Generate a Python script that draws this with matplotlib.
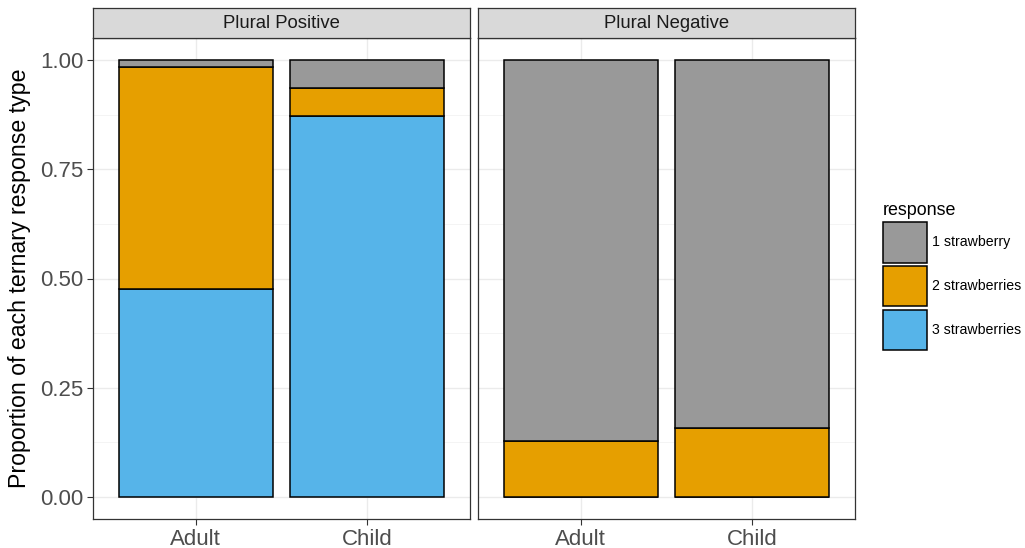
import numpy as np
import matplotlib.pyplot as plt
from matplotlib.ticker import MultipleLocator

plt.rcParams['font.family'] = ['Liberation Sans', 'DejaVu Sans']

groups = ["Adult", "Child"]
panels = ["Plural Positive", "Plural Negative"]
responses = ["1 strawberry", "2 strawberries", "3 strawberries"]
colors = ["#999999", "#E69F00", "#56B4E9"]

# proportions per panel: [group][response]
pos_one = [0.016, 0.064]
pos_two = [0.508, 0.064]
pos_three = [0.476, 0.872]
neg_one = [0.872, 0.842]
neg_two = [0.128, 0.158]
neg_three = [0.0, 0.0]

data = {
    "Plural Positive": [pos_one, pos_two, pos_three],
    "Plural Negative": [neg_one, neg_two, neg_three],
}

W, H = 1025, 548
fig = plt.figure(figsize=(W / 100, H / 100), dpi=100)

lefts = [93, 478]
pw = 377
ptop, pbot = 38, 519
strip_h = 30
dark = "#333333"

handles = None
for k, name in enumerate(panels):
    ax = fig.add_axes([lefts[k] / W, (H - pbot) / H, pw / W, (pbot - ptop) / H])
    x = np.arange(1, len(groups) + 1)
    one, two, three = data[name]
    b3 = ax.bar(x, three, width=0.9, color=colors[2], edgecolor="black", linewidth=1.1, zorder=3)
    b2 = ax.bar(x, two, width=0.9, bottom=three, color=colors[1], edgecolor="black", linewidth=1.1, zorder=3)
    b1 = ax.bar(x, one, width=0.9, bottom=np.array(three) + np.array(two), color=colors[0],
                edgecolor="black", linewidth=1.1, zorder=3)
    if handles is None:
        handles = [b1, b2, b3]
    ax.set_xlim(0.4, 2.6)
    ax.set_ylim(-0.05, 1.05)
    ax.set_xticks(x)
    ax.set_xticklabels(groups, fontsize=16, color="#4d4d4d")
    ax.yaxis.set_major_locator(MultipleLocator(0.25))
    ax.yaxis.set_minor_locator(MultipleLocator(0.125))
    ax.grid(True, which="major", color="#ebebeb", linewidth=1.0, zorder=0)
    ax.grid(True, which="minor", axis="y", color="#f2f2f2", linewidth=0.6, zorder=0)
    ax.tick_params(which="minor", length=0)
    ax.tick_params(which="major", length=4, color=dark, width=0.8, pad=3)
    for s in ax.spines.values():
        s.set_color(dark)
        s.set_linewidth(0.9)
    if k == 0:
        ax.yaxis.set_ticks([0, 0.25, 0.5, 0.75, 1.0])
        ax.set_yticklabels(["0.00", "0.25", "0.50", "0.75", "1.00"], fontsize=16, color="#4d4d4d")
        ax.set_ylabel("Proportion of each ternary response type", fontsize=16.7, va="center")
        ax.yaxis.set_label_coords(-0.195, 0.5)
    else:
        ax.tick_params(axis="y", which="both", left=False, labelleft=False)

    # facet strip
    sax = fig.add_axes([lefts[k] / W, (H - ptop) / H, pw / W, strip_h / H])
    sax.set_xticks([])
    sax.set_yticks([])
    sax.set_facecolor("#d9d9d9")
    for s in sax.spines.values():
        s.set_color(dark)
        s.set_linewidth(0.9)
    sax.text(0.5, 0.5, name, ha="center", va="center", fontsize=13.3, color="#1a1a1a",
             transform=sax.transAxes)

leg = fig.legend(handles, responses, title="response", loc="upper left",
                 bbox_to_anchor=(877 / W, 1 - 196 / H), frameon=False,
                 fontsize=10.2, title_fontsize=12.9, handlelength=3.15, handleheight=4.0,
                 labelspacing=0.25, handletextpad=0.35, borderaxespad=0)
leg._legend_box.align = "left"

fig.savefig("out.png", dpi=100)
